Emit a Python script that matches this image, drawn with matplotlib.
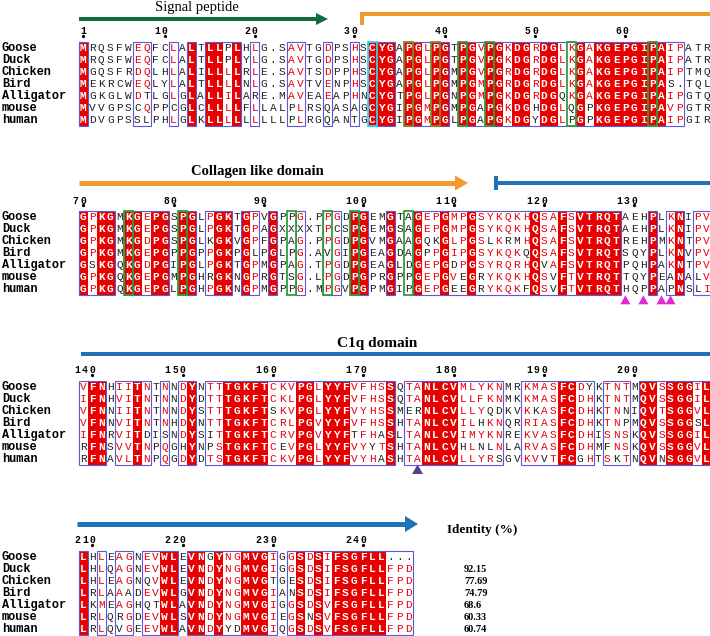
import matplotlib
matplotlib.use("Agg")
import matplotlib.pyplot as plt
from matplotlib.patches import Rectangle, Polygon

# ---------------- data ----------------
names = ["Goose", "Duck", "Chicken", "Bird", "Alligator", "mouse", "human"]

block1 = [
    "MRQSFWEQFCLALTLLPLHLG.SAVTGDPSHSCYGAPGLPGTPGVPGKDGRDGLKGAKGEPGIPAIPATR",
    "MRQSFWEQFCLALTLLPLYLG.SAVTGDPSHSCYGAPGLPGTPGVPGKDGRDGLKGAKGEPGIPAIPATR",
    "MGQSFRDQLHLALILLLLRLE.SAVTSDPPHSCYGAPGLPGMPGVPGRDGRDGLKGAKGEPGIPAIPTMQ",
    "MEKRCWEQLYLALTLLLLNLG.SAVTVENPHSCYGAPGLPGMPGMPGRDGRDGLKGAKGEPGIPAS.TQL",
    "MGKGLWDTLGLGLALLILARE.MAVEAEAPHNCYGTPGLPGNPGMPGKDGRDGQKGAKGEPGIPAIPGTQ",
    "MVVGPSCQPPCGLCLLLLFLLALPLRSQASAGCYGIPGMPGMPGAPGKDGHDGLQGPKGEPGIPAVPGTR",
    "MDVGPSSLPHLGLKLLLLLLLLLPLRGQANTGCYGIPGMPGLPGAPGKDGYDGLPGPKGEPGIPAIPGIR",
]
block2 = [
    "GPKGMKGEPGSPGLPGKTGPVGPPG.PPGDPGEMGTAGEPGMPGSYKQKHQSAFSVTRQTAEHPLKNIPV",
    "GPKGMKGEPGSPGLPGKTGPAGXXXXTPCSPGEMGSAGEPGMPGSYKQKHQSAFSVTRQTAEHPLKNIPV",
    "GPKGMKGDPGSPGLKGKVGPFGPAG.PPGDPGVMGAAGQKGLPGSLKRMHQSAFSVTRQTREHPMKNTPV",
    "GPKGMKGEPGPPGPPGKPGLPGLPG.AVGIPGEAGDAGPPGIPGSYKQKQQSAFSVTRQTSQYPLKNVPV",
    "GSKGQKGDPGIPGLPGKTGPMGPAG.TPGDPGEAGLDGEPGDPGSYRQRHQVAFSVTRQTPQHPAKNTPV",
    "GPKGQKGEPGMPGHRGKNGPRGTSG.LPGDPGPRGPPGEPGVEGRYKQKHQSVFTVTRQTTQYPEANALV",
    "GPKGQKGEPGLPGHPGKNGPMGPPG.MPGVPGPMGIPGEPGEEGRYKQKFQSVFTVTRQTHQPPAPNSLI",
]
block3 = [
    "VFNHIITNTNNDYNTTTGKFTCKVPGLYYFVFHSSQTANLCVMLYKNMRKMASFCDYKTNTMQVSSGGIL",
    "IFNHVITNTNNDYDTTTGKFTCKLPGLYYFVFHSSQTANLCVLLFKNMKKMASFCDHKTNTMQVSSGGIL",
    "VFNNIITNTNNDYSTTTGKFTSKVPGLYYFVYHSSMERNLCVLLYQDKVKKASFCDHKTNNIQVTSGGVL",
    "VFNNVITNTNHDYNTTTGKFTCRLPGVYYFVFHSSHTANLCVILHKNQRRIASFCDHKTNPMQVSSGGSL",
    "IFNRVITDISNDYSITTGKFTCRVPGVYYFTFHASLTANLCVIMYKNREKVASFCDHISNSKQVSSGGIL",
    "RFNSVVTNPQGHYNPSTGKFTCEVPGLYYFVYYTSHTANLCVHLNLNLARVASFCDHMFNSKQVSSGGVL",
    "RFNAVLTNPQGDYDTSTGKFTCKVPGLYYFVYHASHTANLCVLLYRSGVKVVTFCGHTSKTNQVNSGGVL",
]
block4 = [
    "LHLEAGNEVWLEVNGYNGMVGIGGSDSIFSGFLL...",
    "LHLQAGNEVWLEVNDYNGMVGIGGSDSIFSGFLLFPD",
    "LHLEAGNQVWLEVNDYNGMVGTGESDSIFSGFLLFPD",
    "LRLAAADEVWLGVNDYNGMVGIANSDSIFSGFLLFPD",
    "LKMEAGHQTWLAVNDYNGMVGIGGSDSVFSGFLLFPD",
    "LRLQRGDEVWLSVNDYNGMVGIEGSNSVFSGFLLFPD",
    "LRLQVGEEVWLAVNDYYDMVGIQGSDSVFSGFLLFPD",
]
blocks = [block1, block2, block3, block4]

identity_label = "Identity (%)"
identity_values = ["", "92.15", "77.69", "74.79", "68.6", "60.33", "60.74"]

domain_titles = ["Signal peptide", "Collagen like domain", "C1q domain", ""]

# highlighted alignment columns (1-based) and marked residues
green_cols = {0: [43, 46, 55, 64], 1: [6, 12, 24, 28, 31, 37]}
olive_cols = {0: [37, 40]}
cyan_cols = {0: [33]}
magenta_marks = [61, 63, 65, 66]    # block 2, under human
purple_marks = [38]                 # block 3, under human

# ---------------- style / layout ----------------
W, H = 710, 636
CW = 9.036      # column width (px)
RH = 12.0       # row height (px)
X0 = 83.2       # centre of first column (px)
ROW0 = [48.0, 217.3, 387.0, 557.0]   # y of first row per block (px)

RED = "#e60000"
REDTXT = "#e8000b"
FRAME = "#5a5ad6"
BLACK = "#222222"
ORANGE = "#f39a2e"
GREEN_ARROW = "#0b6e3c"
BLUE = "#1f72b8"
MONO = "Liberation Mono"
SERIF = "Liberation Serif"

GROUPS = ["ILVM", "FYW", "KR", "DE", "NQ", "ST"]


def group_of(a):
    for g in GROUPS:
        if a in g:
            return g
    return a


def column_status(col):
    if col[0] not in ".X" and all(a == col[0] for a in col):
        return "id", None
    counts = {}
    for a in col:
        if a in ".-X":
            continue
        g = group_of(a)
        counts[g] = counts.get(g, 0) + 1
    if counts:
        g, n = max(counts.items(), key=lambda kv: kv[1])
        if n / len(col) >= 0.7:
            return "sim", g
    return "none", None


fig = plt.figure(figsize=(W / 100, H / 100), dpi=100)


def block_axes(y0):
    top = y0 - 62
    bottom = y0 + 6 * RH + 22
    ax = fig.add_axes([0, 1 - bottom / H, 1, (bottom - top) / H])
    ax.set_xlim(-X0 / CW, (W - X0) / CW)
    ax.set_ylim((bottom - y0) / RH, (top - y0) / RH)
    ax.axis("off")
    return ax


def px2col(px):
    return (px - X0) / CW


def py2row(py, y0):
    return (py - y0) / RH


def arrow(ax, x0, x1, y, color, thick_px, head_len_px, head_h_px):
    hl = head_len_px / CW
    hw = head_h_px / 2 / RH
    ax.plot([x0, x1 - hl * 0.9], [y, y], color=color, lw=thick_px * 0.72,
            solid_capstyle="butt")
    ax.add_patch(Polygon([(x1 - hl, y - hw), (x1, y), (x1 - hl, y + hw)],
                         closed=True, color=color, lw=0))


def bar_with_tick(ax, x0, y, y_t0, y_t1, color, thick_px):
    ax.plot([x0, px2col(W + 5)], [y, y], color=color, lw=thick_px * 0.72,
            solid_capstyle="butt")
    ax.plot([x0, x0], [y_t0, y_t1], color=color, lw=thick_px * 0.72,
            solid_capstyle="butt")


residue_no = 0
for b, seqs in enumerate(blocks):
    y0 = ROW0[b]
    ax = block_axes(y0)
    ncol = len(seqs[0])
    for s in seqs:
        assert len(s) == ncol, (b, s, len(s))
    nrow = len(seqs)

    statuses = [column_status([s[c] for s in seqs]) for c in range(ncol)]

    # red background for identical columns
    for c, (st, g) in enumerate(statuses):
        if st == "id":
            ax.add_patch(Rectangle((c - 0.5, -0.5), 1, nrow, color=RED, lw=0,
                                   zorder=1))

    # blue frames around runs of conserved columns
    c = 0
    while c < ncol:
        if statuses[c][0] != "none":
            start = c
            while c < ncol and statuses[c][0] != "none":
                c += 1
            ax.add_patch(Rectangle((start - 0.5, -0.5), c - start, nrow,
                                   fill=False, ec=FRAME, lw=0.8, zorder=3))
        else:
            c += 1

    # letters
    for r, s in enumerate(seqs):
        for c, a in enumerate(s):
            st, g = statuses[c]
            if st == "id":
                ax.text(c, r, a, color="white", fontweight="bold",
                        family=MONO, fontsize=8, ha="center", va="center",
                        zorder=4)
            else:
                col = REDTXT if (st == "sim" and a not in ".X" and
                                 group_of(a) == g) else BLACK
                ax.text(c, r, a, color=col, family=MONO, fontsize=8,
                        ha="center", va="center", zorder=4)

    # names
    for r, n in enumerate(names):
        ax.text(px2col(2), r, n, family=MONO, fontweight="bold", fontsize=8.6,
                ha="left", va="center", color="black")

    # residue numbering (by first sequence, skipping gaps)
    for c, a in enumerate(seqs[0]):
        if a == ".":
            continue
        residue_no += 1
        if residue_no == 1 or residue_no % 10 == 0:
            digits = str(residue_no)
            for k, d in enumerate(reversed(digits)):
                ax.text(c - k * 0.83, -1.4, d, family=MONO, fontweight="bold",
                        fontsize=7, ha="center", va="center", color="black")
            ax.plot(c, -1.0, "o", ms=1.3, color="black")

    # highlight frames
    for cc in green_cols.get(b, []):
        ax.add_patch(Rectangle((cc - 1 - 0.5, -0.5), 1, nrow, fill=False,
                               ec="#2f9e3a", lw=1.3, zorder=5))
    for cc in olive_cols.get(b, []):
        ax.add_patch(Rectangle((cc - 1 - 0.5, -0.5), 1, nrow, fill=False,
                               ec="#8a8428", lw=1.3, zorder=5))
    for cc in cyan_cols.get(b, []):
        ax.add_patch(Rectangle((cc - 1 - 0.5, -0.5), 1, nrow, fill=False,
                               ec="#38d0e8", lw=1.3, zorder=5))

    # domain annotations
    if b == 0:
        ax.text(px2col(196.5), py2row(7.5, y0), domain_titles[0],
                family=SERIF, fontsize=10.5, ha="center", va="center")
        arrow(ax, px2col(79), px2col(328), py2row(19, y0), GREEN_ARROW, 4,
              12, 12)
        bar_with_tick(ax, px2col(361.7), py2row(14, y0), py2row(11.5, y0),
                      py2row(25, y0), ORANGE, 4)
    elif b == 1:
        ax.text(px2col(257), py2row(171, y0), domain_titles[1], family=SERIF,
                fontweight="bold", fontsize=10.5, ha="center", va="center")
        arrow(ax, px2col(79), px2col(468), py2row(183, y0), ORANGE, 5, 13, 15)
        bar_with_tick(ax, px2col(496), py2row(183, y0), py2row(176, y0),
                      py2row(189.5, y0), BLUE, 4)
        for m in magenta_marks:
            cx = m - 1
            ax.add_patch(Polygon([(cx - 0.55, 7.25), (cx + 0.55, 7.25),
                                  (cx, 6.5)], closed=True, color="#e327d6",
                                 lw=0))
    elif b == 2:
        ax.text(px2col(377), py2row(343, y0), domain_titles[2], family=SERIF,
                fontweight="bold", fontsize=11, ha="center", va="center")
        ax.plot([px2col(81), px2col(W + 5)], [py2row(354, y0)] * 2, color=BLUE,
                lw=4 * 0.72, solid_capstyle="butt")
        for m in purple_marks:
            cx = m - 1
            ax.add_patch(Polygon([(cx - 0.6, 7.25), (cx + 0.6, 7.25),
                                  (cx, 6.45)], closed=True, color="#5b3d8f",
                                 lw=0))
    else:
        arrow(ax, px2col(77), px2col(418), py2row(524, y0), BLUE, 5, 13, 16)
        ax.text(px2col(447), py2row(530, y0), identity_label, family=SERIF,
                fontweight="bold", fontsize=9.5, ha="left", va="center")
        for r, v in enumerate(identity_values):
            if v:
                ax.text(px2col(464), r, v, family=SERIF, fontweight="bold",
                        fontsize=7.5, ha="left", va="center")

fig.savefig("out.png", dpi=100, facecolor="white")
